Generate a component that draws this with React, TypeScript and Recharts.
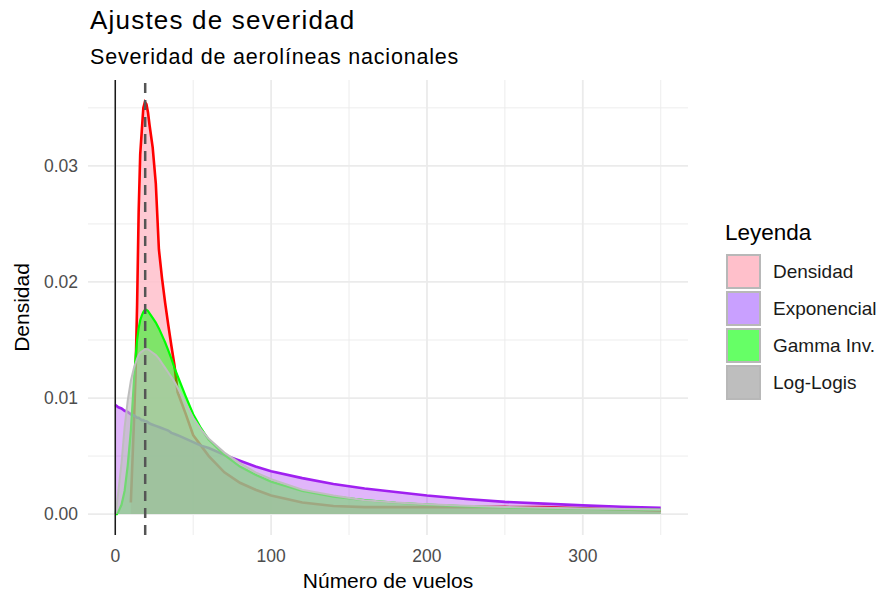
import {
    Area,
    CartesianGrid,
    ComposedChart,
    ReferenceLine,
    XAxis,
    YAxis
} from "recharts";

// número de vuelos (eje x)
const vuelos = [
    0, 1, 2, 4, 6, 8, 10, 12, 13, 14, 15, 16, 17, 18, 19, 20, 21, 22, 24, 26, 28, 30, 32, 34, 36, 38, 40,
    45, 50, 55, 60, 70, 80, 90, 100, 120, 140, 160, 180, 200, 225, 250, 275, 300, 325, 350
];

// la densidad empírica empieza hacia los 10 vuelos
const densidad = [
    null, null, null, null, null, null, 0.001, 0.008, 0.012, 0.018, 0.026, 0.031, 0.033, 0.035, 0.0355,
    0.0353, 0.0346, 0.0335, 0.0316, 0.0285, 0.0228, 0.0203, 0.0182, 0.0163, 0.0145, 0.0128, 0.0105,
    0.0087, 0.0068, 0.0059, 0.005, 0.0036, 0.0027, 0.0021, 0.0016, 0.001, 0.0007, 0.0006, 0.0006, 0.0006,
    0.0006, 0.00062, 0.0006, 0.0005, 0.0004, 0.0003
];

const exponencial = [
    0.0094, 0.0093, 0.0092, 0.0091, 0.0089, 0.0088, 0.0086, 0.0085, 0.0084, 0.0083, 0.0083, 0.0082,
    0.0081, 0.0081, 0.008, 0.008, 0.0079, 0.0078, 0.0077, 0.0076, 0.0075, 0.0074, 0.0073, 0.0072, 0.007,
    0.0069, 0.0068, 0.0065, 0.0062, 0.0059, 0.0057, 0.0051, 0.0046, 0.0041, 0.0037, 0.0031, 0.0026,
    0.0022, 0.0019, 0.0016, 0.0013, 0.00105, 0.0009, 0.00075, 0.00063, 0.00054
];

const gammaInv = [
    0, 0, 0.0002, 0.0008, 0.002, 0.0042, 0.0072, 0.0115, 0.0135, 0.015, 0.016, 0.0167, 0.0171, 0.0174,
    0.0176, 0.0176, 0.0175, 0.0173, 0.0169, 0.0165, 0.016, 0.0154, 0.0148, 0.0141, 0.0134, 0.0126,
    0.0119, 0.0102, 0.0086, 0.0074, 0.0064, 0.0051, 0.0041, 0.0034, 0.0028, 0.002, 0.0015, 0.0012,
    0.00098, 0.00082, 0.00067, 0.00057, 0.0005, 0.00045, 0.0004, 0.00036
];

const logLogis = [
    0, 0.0008, 0.002, 0.0044, 0.0075, 0.0098, 0.0115, 0.0126, 0.013, 0.0134, 0.0137, 0.0139, 0.014,
    0.0141, 0.0142, 0.0142, 0.0142, 0.0141, 0.0139, 0.0137, 0.0134, 0.013, 0.0126, 0.0122, 0.0118,
    0.0114, 0.0109, 0.0096, 0.0083, 0.0073, 0.0065, 0.0053, 0.0044, 0.0036, 0.003, 0.0021, 0.0016,
    0.0012, 0.001, 0.00085, 0.00072, 0.00062, 0.00055, 0.00048, 0.00043, 0.00039
];

const xTicks = [0, 100, 200, 300];
const xMinor = [50, 150, 250, 350];
const yTicks = [0, 0.01, 0.02, 0.03];
const yMinor = [0.005, 0.015, 0.025, 0.035];
const mediaVuelos = 19.2;

const FONT = '"Liberation Sans", Arial, sans-serif';

const series = [
    { key: "densidad", name: "Densidad", stroke: "#FF0000", fill: "#FFC0CB", opacity: 0.85, width: 2.6, key_fill: "#FFC0CB" },
    { key: "exponencial", name: "Exponencial", stroke: "#A020F0", fill: "#A020F0", opacity: 0.33, width: 2.6, key_fill: "#C9A0FF" },
    { key: "gammaInv", name: "Gamma Inv.", stroke: "#00FF00", fill: "#00FF00", opacity: 0.5, width: 2.2, key_fill: "#66FF66" },
    { key: "logLogis", name: "Log-Logis", stroke: "#BEBEBE", fill: "#BEBEBE", opacity: 0.6, width: 2, key_fill: "#BEBEBE" }
];

const rows = vuelos.map((x, i) => ({
    x,
    densidad: densidad[i],
    exponencial: exponencial[i],
    gammaInv: gammaInv[i],
    logLogis: logLogis[i]
}));

export default function App() {
    return (
        <div style={{ position: "absolute", left: 0, top: 0, width: 883, height: 596, background: "#fff", fontFamily: FONT }}>
            <ComposedChart
                width={883}
                height={596}
                data={rows}
                margin={{ top: 80, right: 195, bottom: 0, left: 0 }}
                style={{ fontFamily: FONT }}
            >
                <CartesianGrid
                    stroke="#EBEBEB"
                    strokeWidth={0.9}
                    horizontalValues={yMinor}
                    verticalValues={xMinor}
                />
                <CartesianGrid
                    stroke="#EBEBEB"
                    strokeWidth={1.8}
                    horizontalValues={yTicks}
                    verticalValues={xTicks}
                />
                <XAxis
                    type="number"
                    dataKey="x"
                    domain={[-17.5, 367.5]}
                    ticks={xTicks}
                    allowDataOverflow
                    axisLine={false}
                    tickLine={false}
                    tickSize={0}
                    tickMargin={15}
                    height={61}
                    tick={{ fill: "#4D4D4D", fontSize: 17.5, fontFamily: FONT }}
                    label={{ value: "Número de vuelos", position: "insideBottom", offset: 8, fill: "#000", fontSize: 21, fontFamily: FONT }}
                />
                <YAxis
                    type="number"
                    domain={[-0.0018, 0.0374]}
                    ticks={yTicks}
                    allowDataOverflow
                    axisLine={false}
                    tickLine={false}
                    tickSize={0}
                    tickMargin={10}
                    width={88}
                    tickFormatter={(v: number) => v.toFixed(2)}
                    tick={{ fill: "#4D4D4D", fontSize: 17.5, fontFamily: FONT }}
                    label={{
                        value: "Densidad",
                        angle: -90,
                        position: "insideLeft",
                        offset: 22,
                        fill: "#000",
                        fontSize: 21,
                        fontFamily: FONT,
                        style: { textAnchor: "middle" }
                    }}
                />
                {series.map((s) => (
                    <Area
                        key={s.key}
                        type="linear"
                        dataKey={s.key}
                        name={s.name}
                        stroke={s.stroke}
                        strokeWidth={s.width}
                        fill={s.fill}
                        fillOpacity={s.opacity}
                        baseValue={0}
                        dot={false}
                        activeDot={false}
                        isAnimationActive={false}
                    />
                ))}
                <ReferenceLine x={0} stroke="#1A1A1A" strokeWidth={1.5} />
                <ReferenceLine x={mediaVuelos} stroke="#555555" strokeWidth={2.5} strokeDasharray="10 7" />
            </ComposedChart>

            <svg width={883} height={596} style={{ position: "absolute", left: 0, top: 0, pointerEvents: "none" }}>
                <text x={90} y={29} fontSize={26} letterSpacing={1.2} fill="#000" fontFamily={FONT}>
                    Ajustes de severidad
                </text>
                <text x={90} y={64} fontSize={21.5} letterSpacing={0.8} fill="#000" fontFamily={FONT}>
                    Severidad de aerolíneas nacionales
                </text>

                <text x={725} y={240} fontSize={22.5} fill="#000" fontFamily={FONT}>
                    Leyenda
                </text>
                {series.map((s, i) => (
                    <g key={s.key}>
                        <rect
                            x={727}
                            y={255 + i * 37}
                            width={33}
                            height={33}
                            fill={s.key_fill}
                            stroke="#B8B8B8"
                            strokeWidth={2}
                        />
                        <text x={773} y={278 + i * 37} fontSize={19} fill="#1A1A1A" fontFamily={FONT}>
                            {s.name}
                        </text>
                    </g>
                ))}
            </svg>
        </div>
    );
}
